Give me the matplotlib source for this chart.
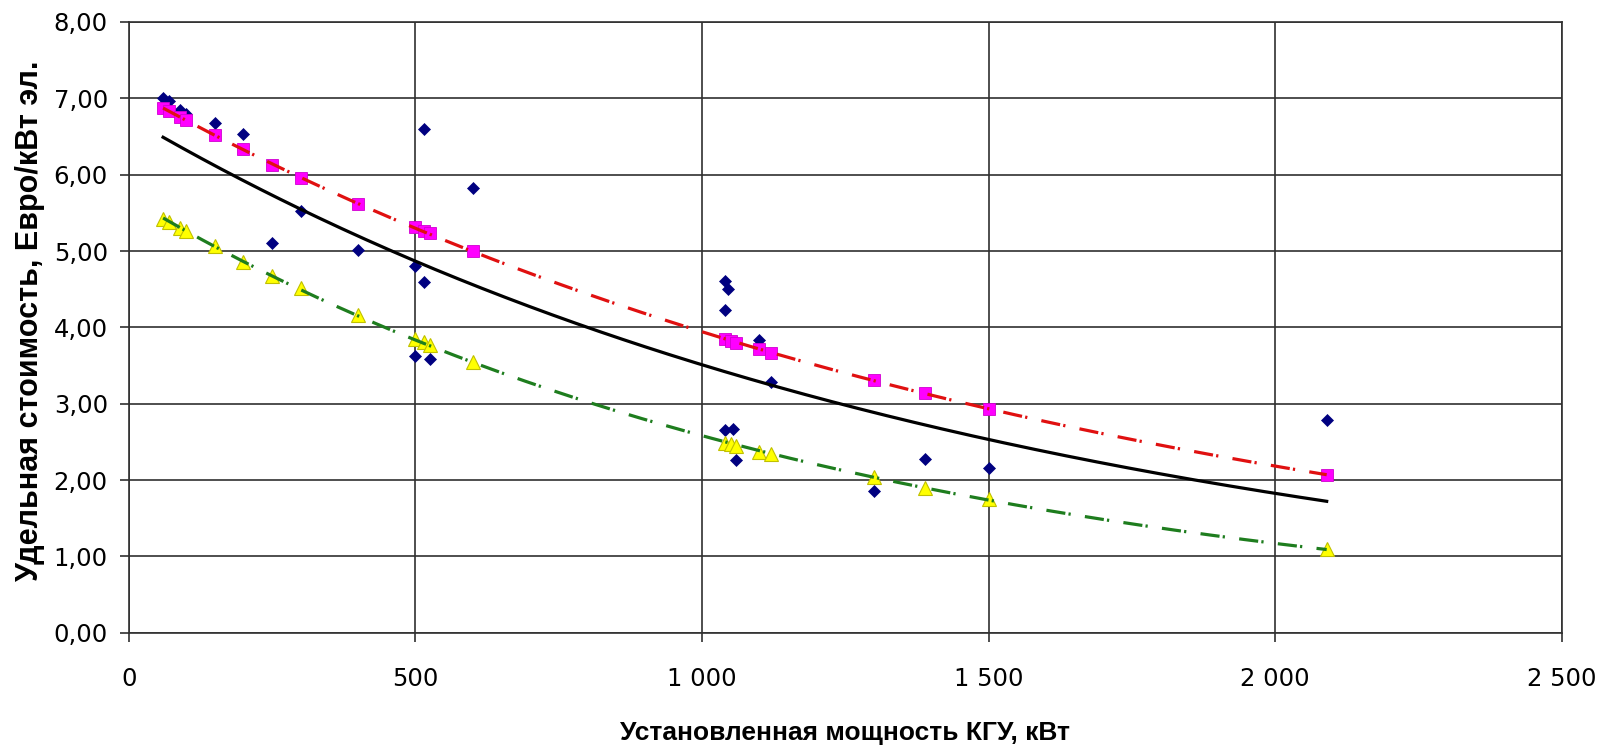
import numpy as np
import matplotlib
matplotlib.use('Agg')
import matplotlib.pyplot as plt

# Фактические данные (синие ромбы)
kw_fact = [60, 70, 90, 100, 150, 200, 250, 300, 400, 500, 500, 515, 515, 526, 600,
           1040, 1045, 1040, 1040, 1055, 1060, 1100, 1120, 1300, 1390, 1500, 2090]
cost_fact = [7.00, 6.96, 6.85, 6.79, 6.68, 6.53, 5.10, 5.52, 5.01, 4.81, 3.62, 6.60, 4.59, 3.58, 5.82,
             4.61, 4.50, 4.23, 2.65, 2.67, 2.26, 3.83, 3.29, 1.85, 2.28, 2.16, 2.79]

# Верхняя и нижняя границы (квадраты и треугольники)
kw_calc = [60, 70, 90, 100, 150, 200, 250, 300, 400, 500, 515, 526, 600,
           1040, 1050, 1060, 1100, 1120, 1300, 1390, 1500, 2090]
cost_max = [6.87, 6.83, 6.75, 6.71, 6.52, 6.33, 6.13, 5.96, 5.62, 5.31, 5.26, 5.23, 5.00,
            3.85, 3.82, 3.79, 3.72, 3.66, 3.31, 3.14, 2.93, 2.07]
cost_min = [5.42, 5.38, 5.30, 5.26, 5.06, 4.86, 4.67, 4.51, 4.16, 3.85, 3.81, 3.77, 3.54,
            2.49, 2.47, 2.45, 2.37, 2.34, 2.04, 1.90, 1.75, 1.09]

x_ticks = [0, 500, 1000, 1500, 2000, 2500]
x_labels = ['0', '500', '1 000', '1 500', '2 000', '2 500']
y_ticks = [0, 1, 2, 3, 4, 5, 6, 7, 8]
y_labels = ['0,00', '1,00', '2,00', '3,00', '4,00', '5,00', '6,00', '7,00', '8,00']


def exp_trend(x, y):
    # экспоненциальная линия тренда, как в Excel
    b, a = np.polyfit(np.array(x, float), np.log(np.array(y, float)), 1)
    xs = np.linspace(min(x), max(x), 300)
    return xs, np.exp(a + b * xs)


fig = plt.figure(figsize=(16.01, 7.46), dpi=100)
ax = fig.add_axes([128.7 / 1601, 1 - 632.7 / 746, 1433 / 1601, 610.7 / 746])

# точки
ax.plot(kw_fact, cost_fact, 'D', color='#000080', markersize=6.3, markeredgewidth=0.5, zorder=3)
ax.plot(kw_calc, cost_max, 's', color='#FF00FF', markersize=8.5, markeredgecolor='#D000D0',
        markeredgewidth=0.6, zorder=3)
ax.plot(kw_calc, cost_min, '^', color='#FFFF00', markersize=10.5, markeredgecolor='#C0C000',
        markeredgewidth=0.8, zorder=3)

# линии тренда
dash = (6, 1, 0.7, 4.5)
xs, ys = exp_trend(kw_fact, cost_fact)
ax.plot(xs, ys, '-', color='black', linewidth=2.3, zorder=4)
xs, ys = exp_trend(kw_calc, cost_max)
ax.plot(xs, ys, color='#E01010', linewidth=2.3, dashes=dash, zorder=4)
xs, ys = exp_trend(kw_calc, cost_min)
ax.plot(xs, ys, color='#1E7D1E', linewidth=2.3, dashes=dash, zorder=4)

ax.set_xlim(0, 2500)
ax.set_ylim(0, 8)
ax.set_xticks(x_ticks)
ax.set_xticklabels(x_labels)
ax.set_yticks(y_ticks)
ax.set_yticklabels(y_labels)
ax.grid(True, color='#303030', linewidth=1.2)
ax.set_axisbelow(True)
for s in ax.spines.values():
    s.set_color('#303030')
    s.set_linewidth(1.2)

ax.tick_params(axis='x', direction='out', length=6.5, width=1.2, color='#303030',
               pad=18.5, labelsize=17.5)
ax.tick_params(axis='y', direction='out', length=6.5, width=1.2, color='#303030',
               pad=8.5, labelsize=17.5)

ax.set_xlabel('Установленная мощность КГУ, кВт', fontsize=19, fontweight='bold',
              family='Liberation Sans')
ax.xaxis.label.set_va('baseline')
ax.xaxis.set_label_coords(0.5, (632.7 - 740) / 610.7)
ax.set_ylabel('Удельная стоимость, Евро/кВт эл.', fontsize=22, fontweight='bold',
              family='Liberation Sans')
ax.yaxis.label.set_va('center')
ax.yaxis.set_label_coords((30 - 128.7) / 1433, 0.51)

fig.savefig('out.png', dpi=100)
